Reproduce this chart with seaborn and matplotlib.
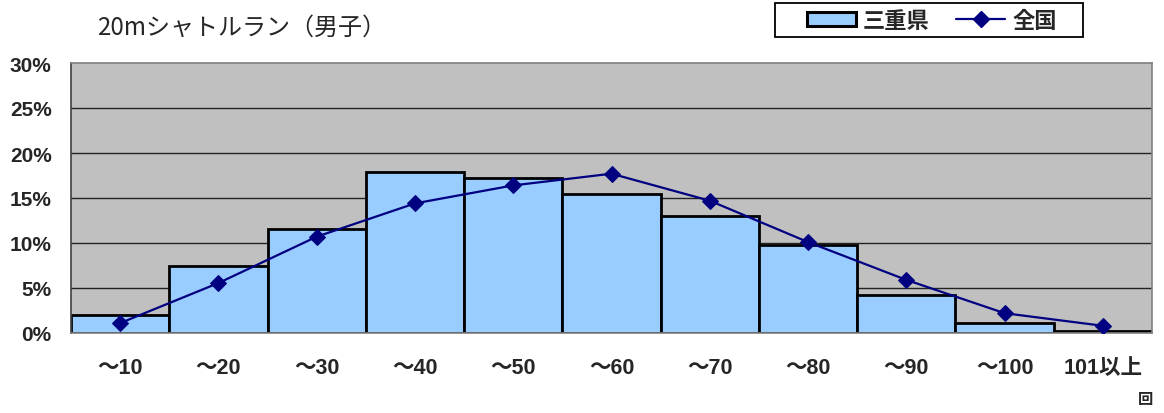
import numpy as np
import pandas as pd
import matplotlib
matplotlib.use("Agg")
import matplotlib.pyplot as plt
import seaborn as sns
from matplotlib import font_manager
from matplotlib.patches import Patch, Rectangle
from matplotlib.lines import Line2D

categories = ["～10", "～20", "～30", "～40", "～50", "～60", "～70", "～80", "～90", "～100", "101以上"]
mie_values = [2.0, 7.4, 11.6, 17.85, 17.2, 15.5, 13.0, 9.8, 4.2, 1.15, 0.26]
national_values = [1.1, 5.55, 10.7, 14.4, 16.4, 17.7, 14.7, 10.1, 5.9, 2.2, 0.8]
yticks = [0, 5, 10, 15, 20, 25, 30]
ytick_labels = ["0%", "5%", "10%", "15%", "20%", "25%", "30%"]

sns.set_theme(style="white")
names = {f.name for f in font_manager.fontManager.ttflist}
numfont = 'Liberation Sans Narrow' if 'Liberation Sans Narrow' in names else 'Liberation Sans'
plt.rcParams['font.family'] = [numfont, 'Noto Sans CJK JP', 'DejaVu Sans']

fig = plt.figure(figsize=(11.64, 4.14), dpi=100)
ax = fig.add_axes([71/1164, 80/414, 1081/1164, 270/414])

df = pd.DataFrame({"cat": categories, "mie": mie_values,
                   "pos": np.arange(len(categories)), "nat": national_values})

ax.set_facecolor("#C0C0C0")
for y in yticks[1:-1]:
    ax.axhline(y, color="#222222", lw=1.0, zorder=0.5)

sns.barplot(data=df, x="cat", y="mie", order=categories, color="#99CCFF",
            saturation=1, width=1.0, edgecolor="black", linewidth=2.0, ax=ax, zorder=2)
sns.lineplot(data=df, x="pos", y="nat", color="#000080", lw=1.6, marker="D",
             markersize=8, markeredgecolor="#000080", ax=ax, zorder=3)

ax.set_xlim(-0.5, len(categories) - 0.5)
ax.set_ylim(0, 30)
ax.set_yticks(yticks)
ax.set_yticklabels(ytick_labels, fontsize=15, fontweight="bold")
ax.set_xticks(np.arange(len(categories)))
ax.set_xticklabels(categories, fontsize=15.5, fontweight="bold",
                   family=[numfont, 'Noto Sans CJK JP'])
ax.tick_params(axis="y", length=0, pad=14)
ax.tick_params(axis="x", length=0, pad=17)
ax.set_xlabel("")
ax.set_ylabel("")
for s in ["top", "right", "bottom"]:
    ax.spines[s].set_color("#808080")
    ax.spines[s].set_linewidth(1.2)
ax.spines["left"].set_color("#404040")
ax.spines["left"].set_linewidth(1.2)

fig.text(97/1164, 1 - 28/414, "20mシャトルラン（男子）", fontsize=17.3,
         family=['Noto Sans CJK JP', 'DejaVu Sans'], va="center", ha="left")
fig.text(1146/1164, 1 - 399/414, "回", fontsize=11, fontweight="bold",
         family=['Noto Sans CJK JP', 'DejaVu Sans'], va="center", ha="center")

# legend frame
fig.patches.append(Rectangle((775/1164, 1 - 38/414), 308/1164, 34/414,
                             transform=fig.transFigure, facecolor="white",
                             edgecolor="black", linewidth=1.3, zorder=1))
handles = [Patch(facecolor="#99CCFF", edgecolor="black", linewidth=2.2),
           Line2D([0], [0], color="#000080", lw=1.6, marker="D", markersize=8)]
leg = fig.legend(handles, ["三重県", "全国"], loc="center", bbox_to_anchor=(932/1164, 1 - 21/414),
                 ncol=2, frameon=False,
                 prop={"family": ['Noto Sans CJK JP', 'DejaVu Sans'], "size": 16, "weight": "bold"},
                 handlelength=2.2, handleheight=0.6, columnspacing=1.2, borderpad=0.1,
                 handletextpad=0.3)
leg.set_zorder(2)

fig.savefig("out.png", dpi=100)
